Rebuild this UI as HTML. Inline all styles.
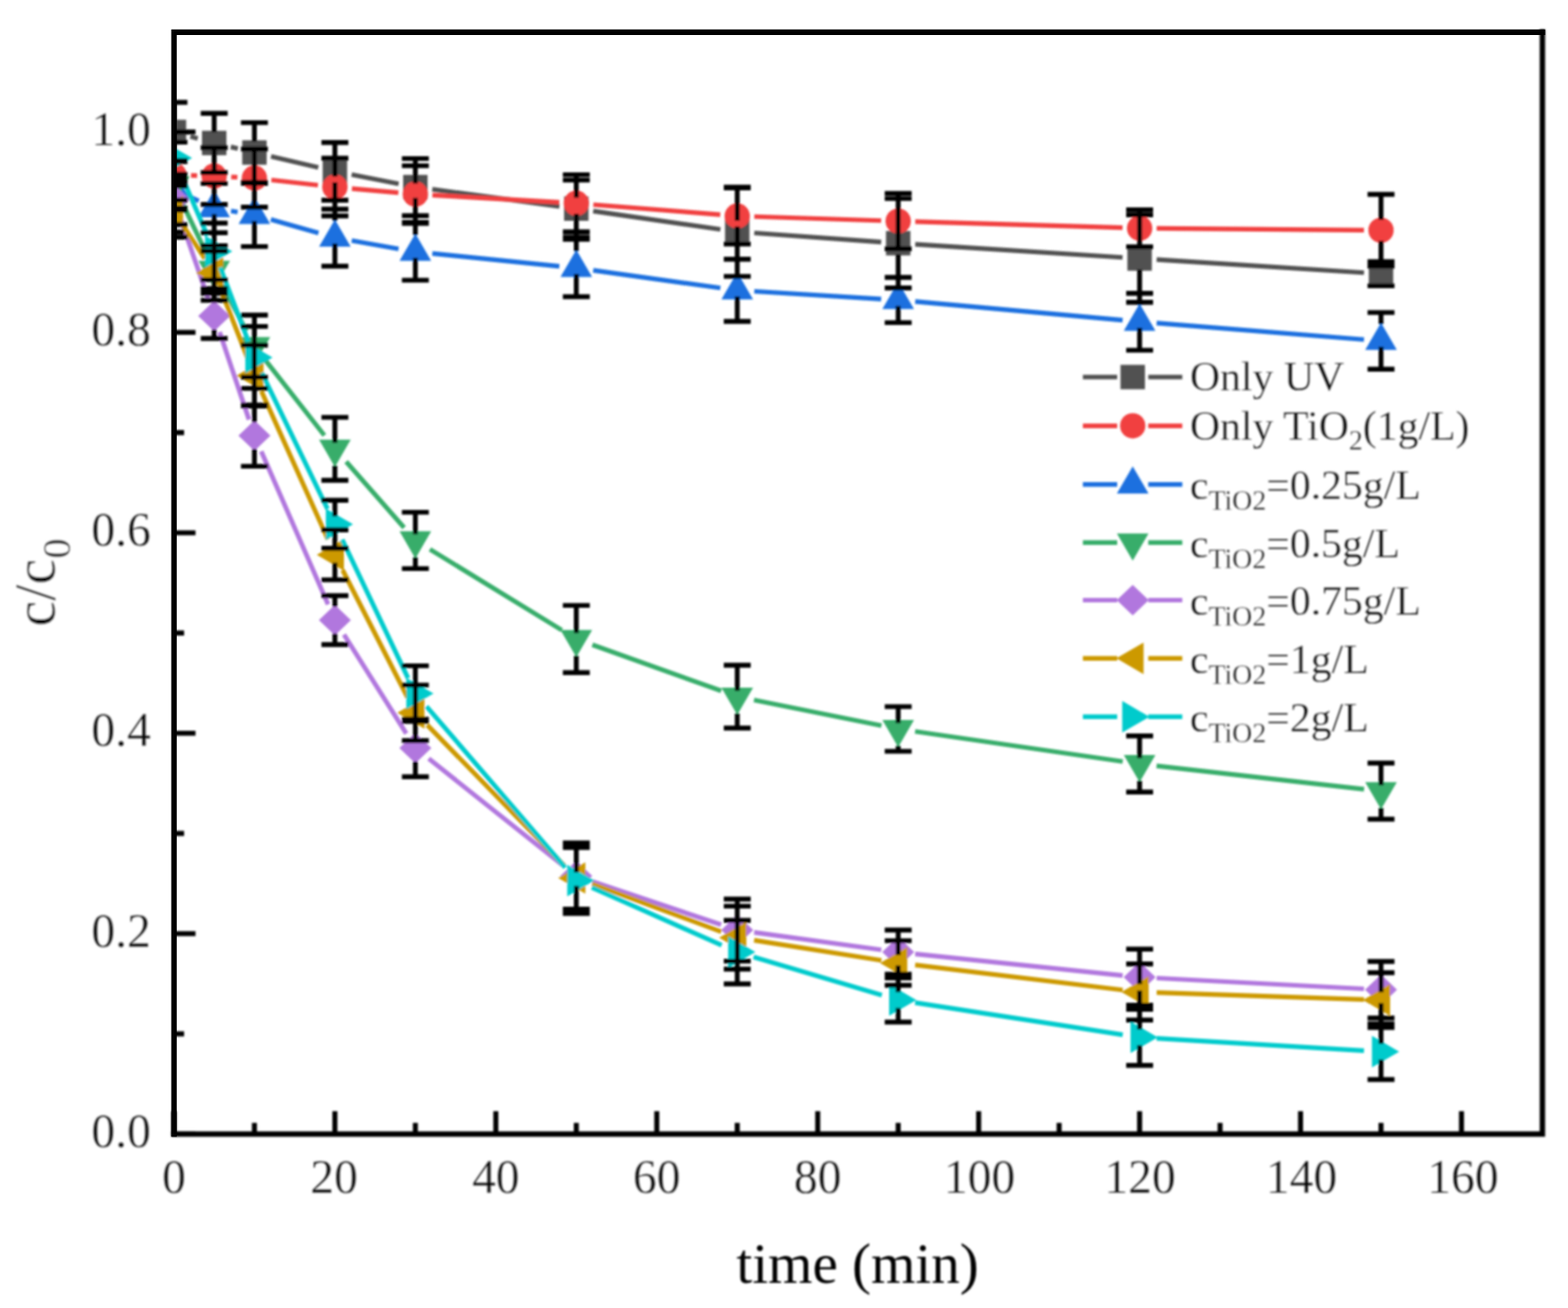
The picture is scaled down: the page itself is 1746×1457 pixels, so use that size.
<!DOCTYPE html>
<html lang="en">
<head>
<meta charset="utf-8">
<title>c/c0 vs time</title>
<style>
html,body{margin:0;padding:0;background:#fff;}
body{width:1746px;height:1457px;overflow:hidden;}
svg{display:block;}
</style>
</head>
<body>
<svg width="1746" height="1457" viewBox="0 0 1746 1457" role="img" aria-label="c/c0 versus time (min) for UV only, TiO2 only and five TiO2 concentrations">
<rect width="1746" height="1457" fill="#fff"/>
<defs><clipPath id="pc"><rect x="193.7" y="35.8" width="1523.8" height="1227.4"/></clipPath><filter id="b1" x="0" y="0" width="1746" height="1457" filterUnits="userSpaceOnUse"><feGaussianBlur stdDeviation="1.1"/></filter><filter id="b2" x="0" y="0" width="1746" height="1457" filterUnits="userSpaceOnUse"><feGaussianBlur stdDeviation="0.8"/></filter><filter id="b3" x="0" y="0" width="1746" height="1457" filterUnits="userSpaceOnUse"><feGaussianBlur stdDeviation="0.45"/></filter></defs>
<g filter="url(#b1)">
<g clip-path="url(#pc)">
<path d="M212.02 152.02L220.18 154.26M256.99 163.65L264.82 165.51M301.81 174.21L354.41 186.53M391.56 194.51L443.87 204.74M481.35 210.91L622.9 229.87M660.54 235.1L802.14 255.47M839.9 259.52L981.2 269.55M1019.12 272.1L1250.01 286.77M1287.94 289.17L1518.83 303.75" stroke="#515151" stroke-width="5.2" fill="none"/>
<g><rect x="180.1" y="133.4" width="27.2" height="27.2" fill="#515151"/><rect x="224.9" y="145.68" width="27.2" height="27.2" fill="#515151"/><rect x="269.71" y="156.28" width="27.2" height="27.2" fill="#515151"/><rect x="359.31" y="177.27" width="27.2" height="27.2" fill="#515151"/><rect x="448.92" y="194.79" width="27.2" height="27.2" fill="#515151"/><rect x="628.13" y="218.79" width="27.2" height="27.2" fill="#515151"/><rect x="807.34" y="244.57" width="27.2" height="27.2" fill="#515151"/><rect x="986.56" y="257.3" width="27.2" height="27.2" fill="#515151"/><rect x="1255.38" y="274.38" width="27.2" height="27.2" fill="#515151"/><rect x="1524.19" y="291.34" width="27.2" height="27.2" fill="#515151"/></g>
<path d="M212.69 195.47L219.51 195.64M257.48 197.06L264.33 197.4M302.19 200.46L354.03 206.27M391.84 210.04L443.59 214.55M481.49 217.29L622.76 225.39M660.67 227.97L802 239.15M839.93 241.25L981.17 245.74M1019.15 246.9L1249.98 253.71M1287.97 254.42L1518.79 256.34" stroke="#F14040" stroke-width="5.2" fill="none"/>
<g><circle cx="193.7" cy="195" r="14.1" fill="#F14040"/><circle cx="238.5" cy="196.11" r="14.1" fill="#F14040"/><circle cx="283.31" cy="198.35" r="14.1" fill="#F14040"/><circle cx="372.91" cy="208.39" r="14.1" fill="#F14040"/><circle cx="462.52" cy="216.2" r="14.1" fill="#F14040"/><circle cx="641.73" cy="226.47" r="14.1" fill="#F14040"/><circle cx="820.94" cy="240.65" r="14.1" fill="#F14040"/><circle cx="1000.16" cy="246.34" r="14.1" fill="#F14040"/><circle cx="1268.98" cy="254.27" r="14.1" fill="#F14040"/><circle cx="1537.79" cy="256.5" r="14.1" fill="#F14040"/></g>
<path d="M210.96 219.13L221.25 223.88M257.24 235L264.57 236.25M301.59 244.59L354.63 259.59M391.63 268.05L443.81 277.21M481.42 282.39L622.83 296.57M660.55 301.08L802.12 320.75M839.91 324.51L981.19 333.04M1019.08 335.89L1250.05 356.7M1287.92 359.91L1518.85 378.23" stroke="#1A6FDF" stroke-width="5.2" fill="none"/>
<g><polygon points="193.7,190.98 211.3,221.28 176.1,221.28" fill="#1A6FDF"/><polygon points="238.5,211.63 256.1,241.93 220.9,241.93" fill="#1A6FDF"/><polygon points="283.31,219.22 300.91,249.52 265.71,249.52" fill="#1A6FDF"/><polygon points="372.91,244.56 390.51,274.86 355.31,274.86" fill="#1A6FDF"/><polygon points="462.52,260.3 480.12,290.6 444.92,290.6" fill="#1A6FDF"/><polygon points="641.73,278.27 659.33,308.57 624.13,308.57" fill="#1A6FDF"/><polygon points="820.94,303.16 838.54,333.46 803.34,333.46" fill="#1A6FDF"/><polygon points="1000.16,313.99 1017.76,344.29 982.56,344.29" fill="#1A6FDF"/><polygon points="1268.98,338.21 1286.58,368.51 1251.38,368.51" fill="#1A6FDF"/><polygon points="1537.79,359.53 1555.39,389.83 1520.19,389.83" fill="#1A6FDF"/></g>
<path d="M201.87 223.65L230.34 283.43M247.36 317.4L274.45 368.83M295.03 400.6L361.19 484.99M385.45 514.22L449.98 587.69M478.72 611.89L625.53 701.87M659.62 718.2L803.06 769.57M839.57 779.73L981.53 808.28M1018.96 814.76L1250.17 848.26M1287.86 853.11L1518.91 879.11" stroke="#37AD6B" stroke-width="5.2" fill="none"/>
<g><polygon points="193.7,226.69 211.3,196.39 176.1,196.39" fill="#37AD6B"/><polygon points="238.5,320.79 256.1,290.49 220.9,290.49" fill="#37AD6B"/><polygon points="283.31,405.84 300.91,375.54 265.71,375.54" fill="#37AD6B"/><polygon points="372.91,520.14 390.51,489.84 355.31,489.84" fill="#37AD6B"/><polygon points="462.52,622.16 480.12,591.86 444.92,591.86" fill="#37AD6B"/><polygon points="641.73,732 659.33,701.7 624.13,701.7" fill="#37AD6B"/><polygon points="820.94,796.18 838.54,765.88 803.34,765.88" fill="#37AD6B"/><polygon points="1000.16,832.23 1017.76,801.93 982.56,801.93" fill="#37AD6B"/><polygon points="1268.98,871.19 1286.58,840.89 1251.38,840.89" fill="#37AD6B"/><polygon points="1537.79,901.44 1555.39,871.14 1520.19,871.14" fill="#37AD6B"/></g>
<path d="M199.9 240.19L232.3 333.98M244.55 369.95L277.26 467.31M290.9 502.73L365.31 673.29M383.02 706.79L452.41 817.15M477.39 845.07L626.86 963.95M659.74 981.84L802.94 1030M839.77 1038.63L981.33 1058.03M1019.05 1062.57L1250.08 1086.55M1287.95 1089.5L1518.82 1101.48" stroke="#B177DE" stroke-width="5.2" fill="none"/>
<g><polygon points="193.7,205.23 211.5,222.23 193.7,239.23 175.9,222.23" fill="#B177DE"/><polygon points="238.5,334.93 256.3,351.93 238.5,368.93 220.7,351.93" fill="#B177DE"/><polygon points="283.31,468.32 301.11,485.32 283.31,502.32 265.51,485.32" fill="#B177DE"/><polygon points="372.91,673.7 390.71,690.7 372.91,707.7 355.11,690.7" fill="#B177DE"/><polygon points="462.52,816.24 480.32,833.24 462.52,850.24 444.72,833.24" fill="#B177DE"/><polygon points="641.73,958.78 659.53,975.78 641.73,992.78 623.93,975.78" fill="#B177DE"/><polygon points="820.94,1019.05 838.74,1036.05 820.94,1053.05 803.14,1036.05" fill="#B177DE"/><polygon points="1000.16,1043.61 1017.96,1060.61 1000.16,1077.61 982.36,1060.61" fill="#B177DE"/><polygon points="1268.98,1071.51 1286.78,1088.51 1268.98,1105.51 1251.18,1088.51" fill="#B177DE"/><polygon points="1537.79,1085.47 1555.59,1102.47 1537.79,1119.47 1519.99,1102.47" fill="#B177DE"/></g>
<path d="M204.12 251.63L228.08 288.16M245.43 321.74L276.38 400.77M291.09 435.79L365.13 600.7M381.53 634.97L453.9 777.13M475.78 807.67L628.47 964.4M659.55 984.61L803.13 1037.82M839.71 1047.38L981.39 1069.71M1019.02 1074.94L1250.11 1102.76M1287.96 1105.67L1518.8 1113.33" stroke="#CC9900" stroke-width="5.2" fill="none"/>
<g><polygon points="173.5,235.74 203.8,218.14 203.8,253.34" fill="#CC9900"/><polygon points="218.3,304.05 248.6,286.45 248.6,321.65" fill="#CC9900"/><polygon points="263.11,418.46 293.41,400.86 293.41,436.06" fill="#CC9900"/><polygon points="352.71,618.04 383.01,600.44 383.01,635.64" fill="#CC9900"/><polygon points="442.32,794.06 472.62,776.46 472.62,811.66" fill="#CC9900"/><polygon points="621.53,978.01 651.83,960.41 651.83,995.61" fill="#CC9900"/><polygon points="800.74,1044.42 831.04,1026.82 831.04,1062.02" fill="#CC9900"/><polygon points="979.96,1072.66 1010.26,1055.06 1010.26,1090.26" fill="#CC9900"/><polygon points="1248.78,1105.03 1279.08,1087.43 1279.08,1122.63" fill="#CC9900"/><polygon points="1517.59,1113.96 1547.89,1096.36 1547.89,1131.56" fill="#CC9900"/></g>
<path d="M201.22 193.47L230.99 262.6M245.24 297.82L276.57 380.38M291.56 415.26L364.66 566.88M381.07 601.15L454.36 755.36M474.91 786.92L629.34 966.4M659.09 988.53L803.59 1052.88M839.15 1066.03L981.95 1108.54M1018.93 1116.86L1250.2 1152.59M1287.94 1156.61L1518.83 1170.32" stroke="#00CBCC" stroke-width="5.2" fill="none"/>
<g><polygon points="213.9,176.02 183.6,158.42 183.6,193.62" fill="#00CBCC"/><polygon points="258.7,280.05 228.4,262.45 228.4,297.65" fill="#00CBCC"/><polygon points="303.51,398.14 273.21,380.54 273.21,415.75" fill="#00CBCC"/><polygon points="393.11,583.99 362.81,566.39 362.81,601.59" fill="#00CBCC"/><polygon points="482.72,772.52 452.42,754.92 452.42,790.12" fill="#00CBCC"/><polygon points="661.93,980.8 631.63,963.2 631.63,998.4" fill="#00CBCC"/><polygon points="841.14,1060.61 810.84,1043.01 810.84,1078.21" fill="#00CBCC"/><polygon points="1020.36,1113.96 990.06,1096.36 990.06,1131.56" fill="#00CBCC"/><polygon points="1289.18,1155.49 1258.88,1137.89 1258.88,1173.09" fill="#00CBCC"/><polygon points="1557.99,1171.45 1527.69,1153.85 1527.69,1189.05" fill="#00CBCC"/></g>
<path d="M193.7 113.96V134.9M193.7 159.1V180.04M178.7 113.96H208.7M178.7 180.04H208.7M238.5 126.24V147.18M238.5 171.38V192.32M223.5 126.24H253.5M223.5 192.32H253.5M283.31 136.62V157.78M283.31 181.98V203.14M268.31 136.62H298.31M268.31 203.14H298.31M372.91 158.72V178.77M372.91 202.97V223.01M357.91 158.72H387.91M357.91 223.01H387.91M462.52 176.58V196.29M462.52 220.49V240.2M447.52 176.58H477.52M447.52 240.2H477.52M641.73 200.58V220.29M641.73 244.49V264.2M626.73 200.58H656.73M626.73 264.2H656.73M820.94 208.5V246.07M820.94 270.27V307.84M805.94 208.5H835.94M805.94 307.84H835.94M1000.16 221.12V258.8M1000.16 283V320.68M985.16 221.12H1015.16M985.16 320.68H1015.16M1268.98 239.2V275.88M1268.98 300.08V336.75M1253.98 239.2H1283.98M1253.98 336.75H1283.98M1537.79 291.55V292.84M1537.79 317.04V318.34M1522.79 291.55H1552.79M1522.79 318.34H1552.79M193.7 158.39V183.4M193.7 206.6V231.61M178.7 158.39H208.7M178.7 231.61H208.7M238.5 164.52V184.51M238.5 207.71V227.7M223.5 164.52H253.5M223.5 227.7H253.5M283.31 165.98V186.75M283.31 209.95V230.71M268.31 165.98H298.31M268.31 230.71H298.31M372.91 176.24V196.79M372.91 219.99V240.54M357.91 176.24H387.91M357.91 240.54H387.91M462.52 184.62V204.6M462.52 227.8V247.79M447.52 184.62H477.52M447.52 247.79H477.52M641.73 194.66V214.87M641.73 238.07V258.29M626.73 194.66H656.73M626.73 258.29H656.73M820.94 209.4V229.05M820.94 252.25V271.9M805.94 209.4H835.94M805.94 271.9H835.94M1000.16 215.42V234.74M1000.16 257.94V277.26M985.16 215.42H1015.16M985.16 277.26H1015.16M1268.98 233.62V242.67M1268.98 265.87V274.92M1253.98 233.62H1283.98M1253.98 274.92H1283.98M1537.79 216.43V244.9M1537.79 268.1V296.57M1522.79 216.43H1552.79M1522.79 296.57H1552.79M193.7 217.78V223.01M178.7 199.35H208.7M178.7 223.01H208.7M238.5 204.37V213.13M238.5 238.43V259.29M223.5 204.37H253.5M223.5 259.29H253.5M283.31 204.26V220.72M283.31 246.02V274.58M268.31 204.26H298.31M268.31 274.58H298.31M372.91 232.95V246.06M372.91 271.36V296.57M357.91 232.95H387.91M357.91 296.57H387.91M462.52 248.91V261.8M462.52 287.1V312.09M447.52 248.91H477.52M447.52 312.09H477.52M641.73 266.43V279.77M641.73 305.07V330.5M626.73 266.43H656.73M626.73 330.5H656.73M820.94 288.76V304.66M820.94 329.96V357.96M805.94 288.76H835.94M805.94 357.96H835.94M1000.16 308.96V315.49M1000.16 340.79V359.41M985.16 308.96H1015.16M985.16 359.41H1015.16M1268.98 326.71V339.71M1268.98 365.01V390.11M1253.98 326.71H1283.98M1253.98 390.11H1283.98M1537.79 348.14V361.03M1537.79 386.33V411.32M1522.79 348.14H1552.79M1522.79 411.32H1552.79M193.7 179.03V199.89M193.7 225.19V233.95M178.7 179.03H208.7M178.7 233.95H208.7M238.5 279.72V293.99M238.5 319.29V321.46M223.5 279.72H253.5M223.5 321.46H253.5M283.31 351.04V379.04M283.31 404.34V420.25M268.31 351.04H298.31M268.31 420.25H298.31M372.91 464.89V493.34M372.91 518.64V534.99M357.91 464.89H387.91M357.91 534.99H387.91M462.52 570.6V595.36M462.52 620.66V633.33M447.52 570.6H477.52M447.52 633.33H477.52M641.73 674.4V705.2M641.73 730.5V749.19M626.73 674.4H656.73M626.73 749.19H656.73M820.94 740.93V769.38M820.94 794.68V811.03M805.94 740.93H835.94M805.94 811.03H835.94M1000.16 787.14V805.43M1000.16 830.73V836.92M985.16 787.14H1015.16M985.16 836.92H1015.16M1268.98 819.73V844.39M1268.98 869.69V882.24M1253.98 819.73H1283.98M1253.98 882.24H1283.98M1537.79 849.98V874.64M1537.79 899.94V912.49M1522.79 849.98H1552.79M1522.79 912.49H1552.79M193.7 194.22V207.23M193.7 237.23V250.25M178.7 194.22H208.7M178.7 250.25H208.7M238.5 326.82V336.93M238.5 366.93V377.05M223.5 326.82H253.5M223.5 377.05H253.5M283.31 451.28V470.32M283.31 500.32V519.36M268.31 451.28H298.31M268.31 519.36H298.31M372.91 663.47V675.7M372.91 705.7V717.94M357.91 663.47H387.91M357.91 717.94H387.91M462.52 801.2V818.24M462.52 848.24V865.27M447.52 801.2H477.52M447.52 865.27H477.52M641.73 938.94V960.78M641.73 990.78V1012.61M626.73 938.94H656.73M626.73 1012.61H656.73M820.94 1001.45V1021.05M820.94 1051.05V1070.66M805.94 1001.45H835.94M805.94 1070.66H835.94M1000.16 1036.05V1045.61M1000.16 1075.61V1085.17M985.16 1036.05H1015.16M985.16 1085.17H1015.16M1268.98 1057.26V1073.51M1268.98 1103.51V1119.77M1253.98 1057.26H1283.98M1253.98 1119.77H1283.98M1537.79 1070.99V1087.47M1537.79 1117.47V1133.94M1522.79 1070.99H1552.79M1522.79 1133.94H1552.79M193.7 207.27V227M193.7 244.47V264.2M178.7 207.27H208.7M178.7 264.2H208.7M238.5 273.58V295.32M238.5 312.78V334.52M223.5 273.58H253.5M223.5 334.52H253.5M283.31 384.53V409.73M283.31 427.19V452.39M268.31 384.53H298.31M268.31 452.39H298.31M372.91 590.24V609.3M372.91 626.77V645.83M357.91 590.24H387.91M357.91 645.83H387.91M462.52 763.14V785.33M462.52 802.79V824.98M447.52 763.14H477.52M447.52 824.98H477.52M641.73 941.18V969.28M641.73 986.74V1014.85M626.73 941.18H656.73M626.73 1014.85H656.73M820.94 1009.38V1035.69M820.94 1053.16V1079.47M805.94 1009.38H835.94M805.94 1079.47H835.94M1000.16 1047.89V1063.93M1000.16 1081.4V1097.44M985.16 1047.89H1015.16M985.16 1097.44H1015.16M1268.98 1073.78V1096.3M1268.98 1113.77V1136.29M1253.98 1073.78H1283.98M1253.98 1136.29H1283.98M1537.79 1083.49V1105.23M1537.79 1122.7V1144.44M1522.79 1083.49H1552.79M1522.79 1144.44H1552.79M193.7 147.33V167.29M193.7 184.75V204.71M178.7 147.33H208.7M178.7 204.71H208.7M238.5 248.46V271.32M238.5 288.78V311.64M223.5 248.46H253.5M223.5 311.64H253.5M283.31 363.65V389.41M283.31 406.88V432.64M268.31 363.65H298.31M268.31 432.64H298.31M372.91 557.2V575.26M372.91 592.73V610.78M357.91 557.2H387.91M357.91 610.78H387.91M462.52 741.6V763.79M462.52 781.25V803.44M447.52 741.6H477.52M447.52 803.44H477.52M641.73 943.97V972.07M641.73 989.53V1017.64M626.73 943.97H656.73M626.73 1017.64H656.73M820.94 1025.23V1051.88M820.94 1069.34V1095.99M805.94 1025.23H835.94M805.94 1095.99H835.94M1000.16 1089.41V1105.23M1000.16 1122.7V1138.52M985.16 1089.41H1015.16M985.16 1138.52H1015.16M1268.98 1124.23V1146.75M1268.98 1164.22V1186.74M1253.98 1124.23H1283.98M1253.98 1186.74H1283.98M1537.79 1140.42V1162.72M1537.79 1180.18V1202.48M1522.79 1140.42H1552.79M1522.79 1202.48H1552.79" stroke="#000" stroke-width="5.4" fill="none"/>
</g>
<path d="M190.7 1263.2H1720.5 M1717.5 32.8V1266.2" fill="none" stroke="#000" stroke-width="6"/>
<path d="M193.7 1263.2V1237.7M283.31 1263.2V1250.7M372.91 1263.2V1237.7M462.52 1263.2V1250.7M552.12 1263.2V1237.7M641.73 1263.2V1250.7M731.34 1263.2V1237.7M820.94 1263.2V1250.7M910.55 1263.2V1237.7M1000.16 1263.2V1250.7M1089.76 1263.2V1237.7M1179.37 1263.2V1250.7M1268.98 1263.2V1237.7M1358.58 1263.2V1250.7M1448.19 1263.2V1237.7M1537.79 1263.2V1250.7M1627.4 1263.2V1237.7M193.7 1263.2H217.7M193.7 1151.58H205M193.7 1039.96H217.7M193.7 928.34H205M193.7 816.72H217.7M193.7 705.1H205M193.7 593.48H217.7M193.7 481.86H205M193.7 370.24H217.7M193.7 258.62H205M193.7 147H217.7" stroke="#000" stroke-width="5.6" fill="none"/>
<g>
<path d="M1205.8 420H1244 M1278.6 420H1316.5" stroke="#515151" stroke-width="5.2" fill="none"/>
<rect x="1247.7" y="406.4" width="27.2" height="27.2" fill="#515151"/>
<path d="M1205.8 474.3H1244 M1278.6 474.3H1316.5" stroke="#F14040" stroke-width="5.2" fill="none"/>
<circle cx="1261.3" cy="474.3" r="14.1" fill="#F14040"/>
<path d="M1205.8 539.6H1244 M1278.6 539.6H1316.5" stroke="#1A6FDF" stroke-width="5.2" fill="none"/>
<polygon points="1261.3,519.4 1278.9,549.7 1243.7,549.7" fill="#1A6FDF"/>
<path d="M1205.8 604.3H1244 M1278.6 604.3H1316.5" stroke="#37AD6B" stroke-width="5.2" fill="none"/>
<polygon points="1261.3,624.5 1278.9,594.2 1243.7,594.2" fill="#37AD6B"/>
<path d="M1205.8 668.5H1244 M1278.6 668.5H1316.5" stroke="#B177DE" stroke-width="5.2" fill="none"/>
<polygon points="1261.3,651.5 1279.1,668.5 1261.3,685.5 1243.5,668.5" fill="#B177DE"/>
<path d="M1205.8 733.3H1244 M1278.6 733.3H1316.5" stroke="#CC9900" stroke-width="5.2" fill="none"/>
<polygon points="1243.1,733.3 1273.4,715.7 1273.4,750.9" fill="#CC9900"/>
<path d="M1205.8 798.4H1244 M1278.6 798.4H1316.5" stroke="#00CBCC" stroke-width="5.2" fill="none"/>
<polygon points="1279.9,798.4 1249.6,780.8 1249.6,816" fill="#00CBCC"/>
</g>
</g>
<path d="M190.7 35.9H1720.5 M193.75 32.8V1266.2" fill="none" stroke="#000" stroke-width="6.1" filter="url(#b3)"/>
<g filter="url(#b2)" font-family="'Liberation Serif', 'Times New Roman', serif" fill="#000" stroke="#fff" stroke-width="0.3" paint-order="fill stroke">
<g font-size="55.5" text-anchor="middle">
<text transform="translate(193.7 1329) scale(0.955 1)">0</text>
<text transform="translate(371.91 1329) scale(0.955 1)">20</text>
<text transform="translate(552.12 1329) scale(0.955 1)">40</text>
<text transform="translate(731.34 1329) scale(0.955 1)">60</text>
<text transform="translate(910.55 1329) scale(0.955 1)">80</text>
<text transform="translate(1090.76 1329) scale(0.955 1)">100</text>
<text transform="translate(1269.48 1329) scale(0.955 1)">120</text>
<text transform="translate(1449.19 1329) scale(0.955 1)">140</text>
<text transform="translate(1628.9 1329) scale(0.955 1)">160</text>
</g>
<g font-size="55.5" text-anchor="end">
<text transform="translate(168 1277.8) scale(0.955 1)">0.0</text>
<text transform="translate(168 1054.56) scale(0.955 1)">0.2</text>
<text transform="translate(168 831.32) scale(0.955 1)">0.4</text>
<text transform="translate(168 608.08) scale(0.955 1)">0.6</text>
<text transform="translate(168 384.84) scale(0.955 1)">0.8</text>
<text transform="translate(168 161.6) scale(0.955 1)">1.0</text>
</g>
<text x="955" y="1429" font-size="63.5" text-anchor="middle" stroke="none">time (min)</text>
<text transform="translate(61 649) rotate(-90)" font-size="65" text-anchor="middle" stroke-width="0.5">c/c<tspan font-size="45" dy="17">0</tspan></text>
<g font-size="46.5">
<text x="1325" y="435.3">Only UV</text>
<text x="1325" y="490.3">Only TiO<tspan font-size="31" dy="11">2</tspan><tspan dy="-11">(1g/L)</tspan></text>
<text x="1325" y="555.8">c<tspan font-size="31" dy="12">TiO2</tspan><tspan dy="-12">=0.25g/L</tspan></text>
<text x="1325" y="620.5">c<tspan font-size="31" dy="12">TiO2</tspan><tspan dy="-12">=0.5g/L</tspan></text>
<text x="1325" y="684.7">c<tspan font-size="31" dy="12">TiO2</tspan><tspan dy="-12">=0.75g/L</tspan></text>
<text x="1325" y="749.5">c<tspan font-size="31" dy="12">TiO2</tspan><tspan dy="-12">=1g/L</tspan></text>
<text x="1325" y="814.6">c<tspan font-size="31" dy="12">TiO2</tspan><tspan dy="-12">=2g/L</tspan></text>
</g>
</g>
</svg>
</body>
</html>
